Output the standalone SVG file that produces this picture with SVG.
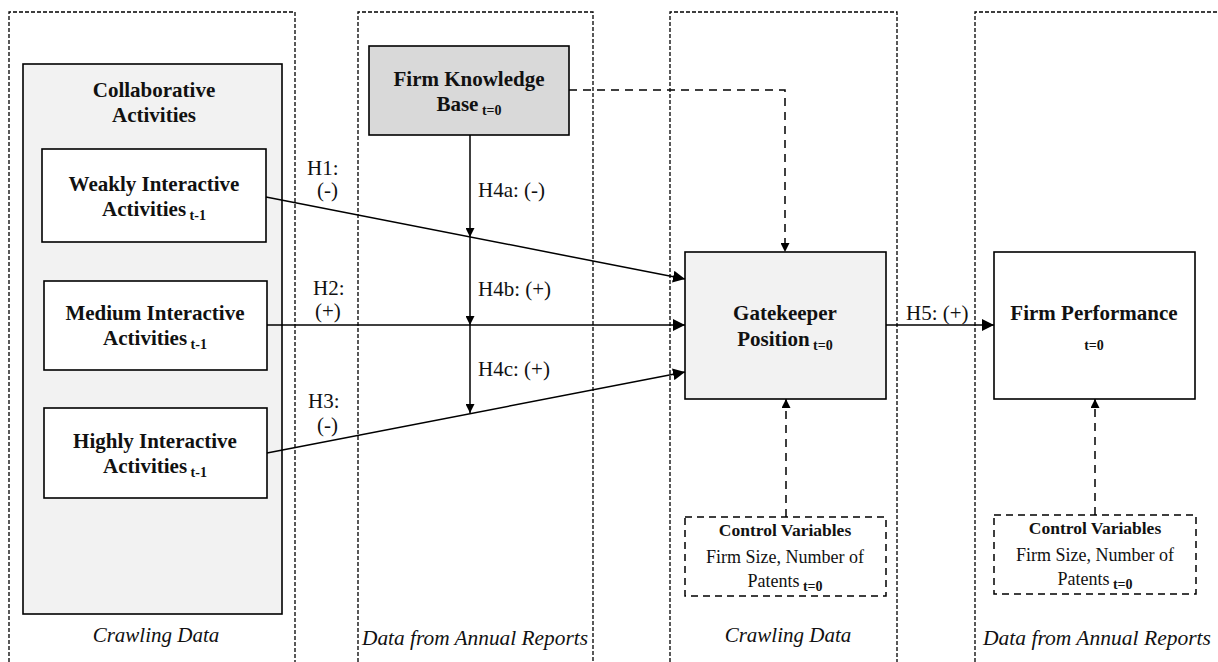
<svg xmlns="http://www.w3.org/2000/svg" width="1218" height="662" viewBox="0 0 1218 662">
<defs>
<marker id="ah" viewBox="0 0 10 10" refX="10" refY="5" markerWidth="9" markerHeight="9" markerUnits="userSpaceOnUse" orient="auto">
<path d="M0,0 L10,5 L0,10 z" fill="#000"/>
</marker>
<marker id="ahb" viewBox="0 0 10 10" refX="10" refY="5" markerWidth="12" markerHeight="12" markerUnits="userSpaceOnUse" orient="auto">
<path d="M0,0 L10,5 L0,10 z" fill="#000"/>
</marker>
</defs>
<style>
.col{fill:none;stroke:#000;stroke-width:1.3;stroke-dasharray:4 2}
.box{stroke:#000;stroke-width:1.6}
.cv{fill:#fff;stroke:#000;stroke-width:1.5;stroke-dasharray:7 5}
.ln{fill:none;stroke:#000;stroke-width:1.5}
.dl{fill:none;stroke:#000;stroke-width:1.5;stroke-dasharray:8 6}
text{font-family:"Liberation Serif","Times New Roman",serif;fill:#111}
.b{font-weight:bold;font-size:21px;text-anchor:middle}
.s{font-size:14px;font-weight:bold}
.h{font-size:21px}
.it{font-style:italic;font-size:21px;text-anchor:middle}
.cb{font-weight:bold;font-size:17.5px;text-anchor:middle}
.cr{font-size:18px;text-anchor:middle}
</style>

<g id="columns">
<path class="col" d="M9,662 V12 H295 V662"/>
<path class="col" d="M358,662 V12 H593 V662"/>
<path class="col" d="M670,662 V12 H897 V662"/>
<path class="col" d="M975,662 V12 H1218"/>
<text class="it" x="156" y="642">Crawling Data</text>
<text class="it" x="475" y="645" textLength="226" lengthAdjust="spacingAndGlyphs">Data from Annual Reports</text>
<text class="it" x="788" y="642">Crawling Data</text>
<text class="it" x="1097" y="645" textLength="228" lengthAdjust="spacingAndGlyphs">Data from Annual Reports</text>
</g>

<g id="collaborative">
<rect class="box" x="23" y="64" width="259" height="550" fill="#f2f2f2"/>
<text class="b" x="154" y="97">Collaborative</text>
<text class="b" x="154" y="122">Activities</text>
</g>

<g id="weakly">
<rect class="box" x="42" y="149" width="224" height="93" fill="#fff"/>
<text class="b" x="154" y="191">Weakly Interactive</text>
<text class="b" x="154" y="216">Activities<tspan class="s" dy="4"> t-1</tspan></text>
</g>

<g id="medium">
<rect class="box" x="44" y="281" width="223" height="89" fill="#fff"/>
<text class="b" x="155" y="320">Medium Interactive</text>
<text class="b" x="155" y="345">Activities<tspan class="s" dy="4"> t-1</tspan></text>
</g>

<g id="highly">
<rect class="box" x="44" y="408" width="223" height="90" fill="#fff"/>
<text class="b" x="155" y="448">Highly Interactive</text>
<text class="b" x="155" y="473">Activities<tspan class="s" dy="4"> t-1</tspan></text>
</g>

<g id="knowledge">
<rect class="box" x="369" y="46" width="200" height="89" fill="#d9d9d9"/>
<text class="b" x="469" y="86">Firm Knowledge</text>
<text class="b" x="469" y="111">Base<tspan class="s" dy="4"> t=0</tspan></text>
</g>

<g id="gatekeeper">
<rect class="box" x="685" y="252" width="201" height="147" fill="#f2f2f2"/>
<text class="b" x="785" y="320">Gatekeeper</text>
<text class="b" x="785" y="346">Position<tspan class="s" dy="4"> t=0</tspan></text>
</g>

<g id="performance">
<rect class="box" x="994" y="252" width="201" height="147" fill="#fff"/>
<text class="b" x="1094" y="320">Firm Performance</text>
<text class="s" x="1094" y="350" text-anchor="middle">t=0</text>
</g>

<g id="controls1">
<rect class="cv" x="685" y="517" width="201" height="79"/>
<text class="cb" x="785" y="536">Control Variables</text>
<text class="cr" x="785" y="563">Firm Size, Number of</text>
<text class="cr" x="785" y="587">Patents<tspan class="s" dy="4"> t=0</tspan></text>
</g>

<g id="controls2">
<rect class="cv" x="994" y="515" width="202" height="79"/>
<text class="cb" x="1095" y="534">Control Variables</text>
<text class="cr" x="1095" y="561">Firm Size, Number of</text>
<text class="cr" x="1095" y="585">Patents<tspan class="s" dy="4"> t=0</tspan></text>
</g>

<g id="connectors">
<line class="ln" x1="266" y1="197" x2="685" y2="279" marker-end="url(#ahb)"/>
<line class="ln" x1="267" y1="325" x2="685" y2="325" marker-end="url(#ahb)"/>
<line class="ln" x1="267" y1="453" x2="685" y2="372" marker-end="url(#ahb)"/>
<line class="ln" x1="470" y1="135" x2="470" y2="237" marker-end="url(#ah)"/>
<line class="ln" x1="470" y1="237" x2="470" y2="325" marker-end="url(#ah)"/>
<line class="ln" x1="470" y1="325" x2="470" y2="413" marker-end="url(#ah)"/>
<line class="ln" x1="886" y1="325" x2="994" y2="325" marker-end="url(#ahb)"/>
<path class="dl" d="M569,90 H785 V252" marker-end="url(#ah)"/>
<line class="dl" x1="786" y1="517" x2="786" y2="399" marker-end="url(#ah)"/>
<line class="dl" x1="1095" y1="515" x2="1095" y2="399" marker-end="url(#ah)"/>
<text class="h" x="307" y="175">H1:</text>
<text class="h" x="317" y="197">(-)</text>
<text class="h" x="313" y="295">H2:</text>
<text class="h" x="315" y="318">(+)</text>
<text class="h" x="308" y="408">H3:</text>
<text class="h" x="317" y="432">(-)</text>
<text class="h" x="478" y="197">H4a: (-)</text>
<text class="h" x="478" y="296">H4b: (+)</text>
<text class="h" x="478" y="376">H4c: (+)</text>
<text class="h" x="906" y="320">H5: (+)</text>
</g>
</svg>
